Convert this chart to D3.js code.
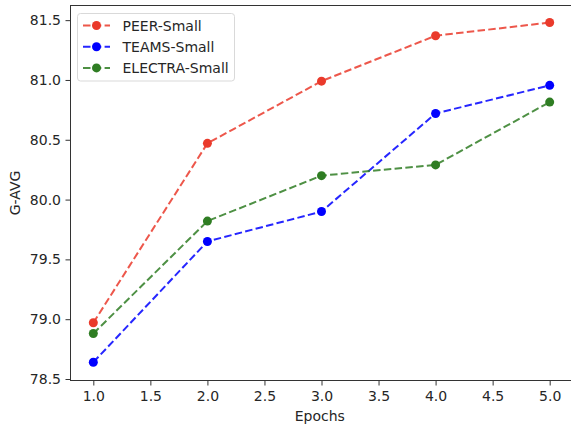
<!DOCTYPE html>
<html><head><meta charset="utf-8">
<script src="https://cdn.jsdelivr.net/npm/d3@7"></script>
<style>body{margin:0;background:#fff}svg{display:block}text{font-family:"DejaVu Sans",sans-serif;fill:#262626}</style>
</head><body>
<svg id="c" width="571" height="425"></svg>
<script>
const epochs = [1, 2, 3, 4, 5];
const peer = [78.97, 80.47, 80.99, 81.37, 81.48];
const teams = [78.64, 79.65, 79.90, 80.72, 80.955];
const electra = [78.88, 79.82, 80.20, 80.29, 80.815];
const seriesNames = ["PEER-Small", "TEAMS-Small", "ELECTRA-Small"];
const seriesColors = ["#ea3a2b", "#0000ff", "#2f7d23"];
const xTicks = [1.0, 1.5, 2.0, 2.5, 3.0, 3.5, 4.0, 4.5, 5.0];
const yTicks = [78.5, 79.0, 79.5, 80.0, 80.5, 81.0, 81.5];
const allSeries = [peer, teams, electra];

const svg = d3.select("#c");
const L = 70.5, R = 572.5, T = 5.5, B = 380.5;
const FS = 14;
const x = d3.scaleLinear().domain([0.8, 5.2]).range([L, R]);
const y = d3.scaleLinear().domain([78.4875, 81.6225]).range([B, T]);

const xAxis = svg.append("g").attr("transform", `translate(0,${B})`)
  .call(d3.axisBottom(x).tickValues(xTicks).tickFormat(d3.format(".1f")).tickSize(5).tickPadding(6));
const yAxis = svg.append("g").attr("transform", `translate(${L},0)`)
  .call(d3.axisLeft(y).tickValues(yTicks).tickFormat(d3.format(".1f")).tickSize(5).tickPadding(4.5));
[xAxis, yAxis].forEach(a => {
  a.select(".domain").remove();
  a.selectAll("line").attr("stroke", "#333").attr("stroke-width", 1);
  a.selectAll("text").attr("font-size", FS).attr("fill", "#262626").attr("font-family", "DejaVu Sans");
});
svg.append("rect").attr("x", L).attr("y", T).attr("width", R - L).attr("height", B - T)
  .attr("fill", "none").attr("stroke", "#333").attr("stroke-width", 1);

svg.append("text").attr("x", (L + 571) / 2 - 1).attr("y", 421).attr("text-anchor", "middle")
  .attr("font-size", FS).text("Epochs");
svg.append("text").attr("transform", `translate(20,${(T + B) / 2}) rotate(-90)`)
  .attr("text-anchor", "middle").attr("font-size", FS).text("G-AVG");

const line = d3.line().x((d, i) => x(epochs[i])).y(d => y(d));
allSeries.forEach((s, k) => {
  svg.append("path").datum(s).attr("d", line).attr("fill", "none")
    .attr("stroke", seriesColors[k]).attr("stroke-width", 2).attr("stroke-dasharray", "7.5,3.3")
    .attr("opacity", 0.85);
  svg.selectAll(null).data(s).enter().append("circle")
    .attr("cx", (d, i) => x(epochs[i])).attr("cy", d => y(d)).attr("r", 4.5)
    .attr("fill", seriesColors[k]);
});

// legend
const lg = svg.append("g");
lg.append("rect").attr("x", 77.5).attr("y", 13.5).attr("width", 157).attr("height", 67.5).attr("rx", 3)
  .attr("fill", "#fff").attr("fill-opacity", 0.85).attr("stroke", "#d9d9d9");
seriesNames.forEach((n, k) => {
  const yy = 25.5 + k * 21.2;
  lg.append("line").attr("x1", 83).attr("x2", 110).attr("y1", yy).attr("y2", yy)
    .attr("stroke", seriesColors[k]).attr("stroke-width", 2).attr("stroke-dasharray", "7.5,3.3").attr("opacity", 0.85);
  lg.append("circle").attr("cx", 96.5).attr("cy", yy).attr("r", 4.5).attr("fill", seriesColors[k]);
  lg.append("text").attr("x", 122.5).attr("y", yy + 5).attr("font-size", FS).text(n);
});
</script>
</body></html>
